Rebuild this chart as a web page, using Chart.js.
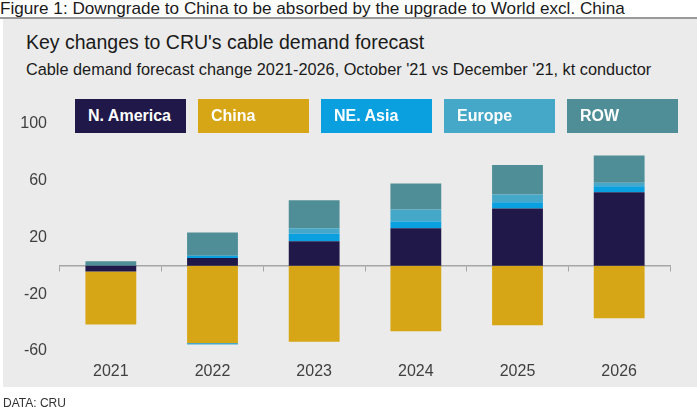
<!DOCTYPE html>
<html>
<head>
<meta charset="utf-8">
<script src="https://cdn.jsdelivr.net/npm/chart.js@4"></script>
<style>
  body { margin: 0; background: #fff; font-family: "Liberation Sans", Arial, sans-serif; }
  #page { position: relative; width: 697px; height: 407px; overflow: hidden; }
  #figTitle { position: absolute; left: 0; top: -2px; font-size: 17.15px; color: #1a1a1a; white-space: nowrap; }
  #rule { position: absolute; left: 0; top: 17px; width: 697px; height: 2px; background: #9a9a9a; }
  #panel { position: absolute; left: 3px; top: 19px; width: 694px; height: 368px; background: #ebebeb; }
  #title { position: absolute; left: 26px; top: 31px; font-size: 19.5px; color: #1a1a1a; white-space: nowrap; }
  #subtitle { position: absolute; left: 26px; top: 60px; font-size: 16.3px; color: #1a1a1a; white-space: nowrap; }
  #chartBox { position: absolute; left: 0; top: 0; width: 697px; height: 407px; }
  #legend { position: absolute; left: 0; top: 0; }
  .lg { position: absolute; top: 99px; width: 111px; height: 34px; line-height: 34px; color: #fff;
        font-weight: bold; font-size: 16px; padding-left: 13px; box-sizing: border-box; white-space: nowrap; }
  #source { position: absolute; left: 3px; top: 396px; font-size: 12px; color: #333; }
</style>
</head>
<body>
<div id="page">
  <div id="figTitle">Figure 1: Downgrade to China to be absorbed by the upgrade to World excl. China</div>
  <div id="rule"></div>
  <div id="panel"></div>
  <div id="title">Key changes to CRU's cable demand forecast</div>
  <div id="subtitle">Cable demand forecast change 2021-2026, October '21 vs December '21, kt conductor</div>
  <div id="chartBox"><canvas id="chart"></canvas></div>
  <div id="legend"></div>
  <div id="source">DATA: CRU</div>
</div>
<script>
  // values, kt conductor
  const years = ['2021', '2022', '2023', '2024', '2025', '2026'];
  const nAmerica = [-4, 5.5, 17.3, 26.5, 40.3, 51.9];
  const china = [-37.5, -54.5, -53.6, -46.2, -42, -37];
  const neAsia = [0, 1.6, 5.2, 4.8, 4.5, 4.1];
  const europe = [0, -1, 4, 8.3, 5.5, 2.5];
  const row = [3.1, 16.4, 19.7, 18.5, 20.8, 19.2];
  const yTicks = [-60, -20, 20, 60, 100];

  const seriesNames = ['N. America', 'China', 'NE. Asia', 'Europe', 'ROW'];
  const seriesColors = ['#1f1848', '#d7a616', '#0aa0e0', '#45a8c8', '#4f8e96'];
  const seriesData = [nAmerica, china, neAsia, europe, row];

  const axisGray = '#a6a6a6';
  const textGray = '#404040';

  const ctx = document.getElementById('chart').getContext('2d');
  const chart = new Chart(ctx, {
    type: 'bar',
    data: {
      labels: years,
      datasets: seriesData.map((d, i) => ({
        label: seriesNames[i],
        data: d,
        backgroundColor: seriesColors[i],
        borderWidth: 0,
        categoryPercentage: 1,
        barPercentage: 0.5
      }))
    },
    options: {
      responsive: true,
      maintainAspectRatio: false,
      animation: false,
      layout: { padding: { left: 0, top: 124, right: 27, bottom: 15 } },
      plugins: { legend: { display: false }, tooltip: { enabled: false } },
      scales: {
        // zero line with small tick marks between the years
        x: {
          stacked: true,
          position: { y: 0 },
          offset: true,
          grid: { offset: true, drawOnChartArea: false, drawTicks: true, tickLength: 5, color: axisGray, lineWidth: 1 },
          border: { display: true, color: axisGray, width: 1.5 },
          ticks: { display: false }
        },
        // year labels along the bottom
        x2: {
          type: 'category',
          position: 'bottom',
          offset: true,
          grid: { display: false, drawTicks: false },
          border: { display: false },
          ticks: {
            padding: 11,
            color: textGray,
            font: { family: 'Liberation Sans', size: 16 }
          }
        },
        y: {
          stacked: true,
          min: -60,
          max: 100,
          grid: { display: false, drawTicks: false },
          border: { display: false },
          afterFit: s => { s.width = 60; },
          afterBuildTicks: s => { s.ticks = yTicks.map(v => ({ value: v })); },
          ticks: {
            padding: 13,
            color: textGray,
            font: { family: 'Liberation Sans', size: 16 }
          }
        }
      }
    }
  });

  // legend boxes built from the datasets
  const legend = document.getElementById('legend');
  chart.data.datasets.forEach((ds, i) => {
    const el = document.createElement('div');
    el.className = 'lg';
    el.style.left = (75 + i * 123) + 'px';
    el.style.background = ds.backgroundColor;
    el.textContent = ds.label;
    legend.appendChild(el);
  });
</script>
</body>
</html>
